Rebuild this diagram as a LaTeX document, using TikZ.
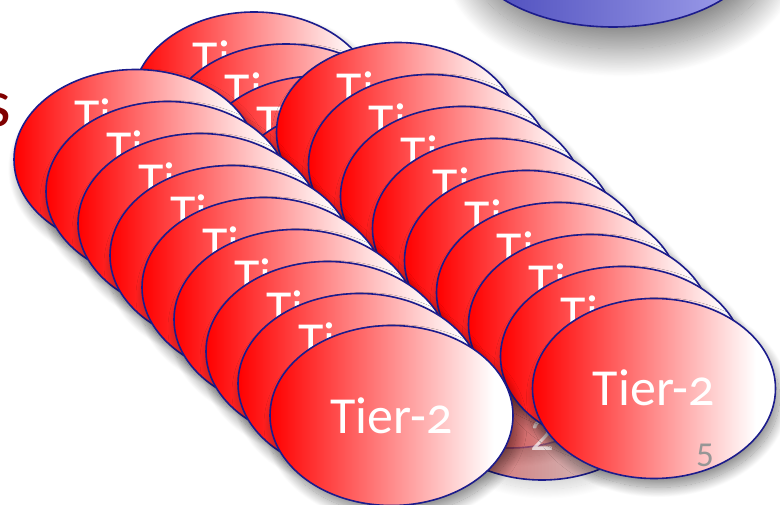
\documentclass[tikz,border=0pt]{standalone}
\usepackage{fontspec}
\setmainfont{Carlito}[Numbers=OldStyle]
\newfontfamily\liningfont{Carlito}[Numbers=Lining]
\usetikzlibrary{shapes.geometric,shadows.blur}

\definecolor{tierline}{RGB}{28,28,140}
\definecolor{topdark}{RGB}{70,70,185}
\definecolor{toplight}{RGB}{165,165,238}
\definecolor{titlered}{RGB}{128,0,0}
\definecolor{pagegray}{RGB}{150,150,150}

% red to white, reaching white a little before the right rim
\pgfdeclarehorizontalshading{tiershade}{100bp}{color(0bp)=(red); color(25bp)=(red); color(71bp)=(white); color(100bp)=(white)}

\tikzset{
  tierov/.style={ellipse, minimum width=243pt, minimum height=180pt, inner sep=0pt,
    draw=tierline, line width=1.6pt, shading=tiershade,
    blur shadow={shadow xshift=4pt, shadow yshift=-9pt, shadow blur radius=10pt,
      shadow opacity=45, shadow blur steps=24}},
  tiertext/.style={anchor=base, inner sep=0pt, text=white, font=\fontsize{52}{52}\selectfont},
  topov/.style={ellipse, minimum width=300pt, minimum height=174pt, inner sep=0pt,
    draw=tierline, line width=1.6pt, left color=topdark, right color=toplight,
    blur shadow={shadow xshift=8pt, shadow yshift=-22pt, shadow blur radius=28pt,
      shadow opacity=50, shadow blur steps=40}},
}

\begin{document}
\begin{tikzpicture}[x=1pt,y=-1pt]
\useasboundingbox (0,0) rectangle (780,505);
\clip (0,0) rectangle (780,505);

% upper tier, mostly off the page
\node[topov] (T1) at (613,-60) {};

% middle column of Tier-2 sites
\foreach \k in {0,...,8} {
  \node[tierov] (M\k) at ({254+32*\k},{102+32*\k}) {};
  \node[tiertext] (Mt\k) at ({254+32*\k},{77+32*\k}) {Tier-2};
}
% last one of the column is only half faded in
\node[ellipse, minimum width=243pt, minimum height=180pt, inner sep=0pt,
  fill=black, fill opacity=0.22,
  blur shadow={shadow xshift=4pt, shadow yshift=-9pt, shadow blur radius=10pt,
    shadow opacity=70, shadow blur steps=24}] (M9base) at (542,390) {};
\node[ellipse, minimum width=243pt, minimum height=180pt, inner sep=0pt,
  draw=tierline, line width=1.6pt, shading=tiershade, fill opacity=0.5] (M9) at (542,390) {};
\node[anchor=base, inner sep=0pt, text=white, text opacity=0.7,
      font=\liningfont\fontsize{47}{47}\selectfont] (Mt9) at (542,450) {2};

% right column
\foreach \k in {0,...,7} {
  \node[tierov] (R\k) at ({398+32*\k},{132.5+32*\k}) {};
  \node[tiertext] (Rt\k) at ({398+32*\k},{107.5+32*\k}) {Tier-2};
}
\node[tierov] (R8) at (654,388.5) {};
\node[tiertext] (Rt8) at (654,405.5) {Tier-2};

% left column
\foreach \k in {0,...,7} {
  \node[tierov] (L\k) at ({135.5+32*\k},{159.5+32*\k}) {};
  \node[tiertext] (Lt\k) at ({135.5+32*\k},{134.5+32*\k}) {Tier-2};
}
\node[tierov] (L8) at (391.5,415.5) {};
\node[tiertext] (Lt8) at (391.5,433) {Tier-2};

% tail of the title and the page number
\node[anchor=base east, inner sep=0pt, text=titlered, font=\fontsize{68}{68}\selectfont] (title) at (11,127) {s};
\node[anchor=base, inner sep=0pt, text=pagegray, font=\liningfont\fontsize{35}{35}\selectfont] (page) at (705,466) {5};
\end{tikzpicture}
\end{document}
